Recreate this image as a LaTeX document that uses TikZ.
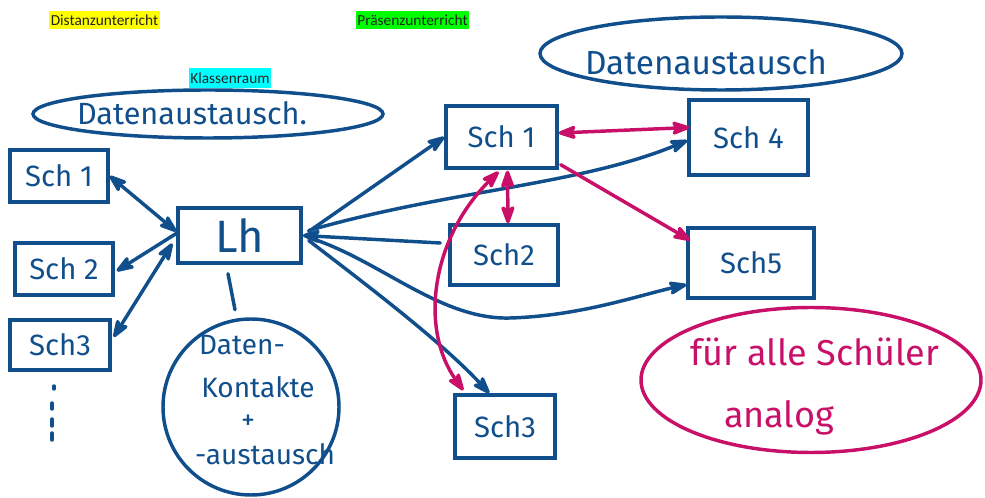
\documentclass[tikz,border=0pt]{standalone}
\usepackage{fontspec}
\setmainfont{Fira Sans}
\newfontfamily\labelfont{Carlito}
\usetikzlibrary{arrows.meta,calc,shapes.geometric}
\definecolor{penblue}{RGB}{16,79,140}
\definecolor{penpink}{RGB}{200,16,104}
\definecolor{hlyellow}{RGB}{255,255,0}
\definecolor{hlgreen}{RGB}{0,255,0}
\definecolor{hlcyan}{RGB}{0,255,255}
\definecolor{labeltext}{RGB}{35,35,35}
\begin{document}
\begin{tikzpicture}[x=0.75pt,y=-0.75pt,
  pen/.style={line width=2.6pt, line cap=round, line join=round},
  bluepen/.style={pen, draw=penblue},
  pinkpen/.style={pen, draw=penpink},
  tipend/.style={-{Stealth[length=17pt,width=12pt,inset=4pt,round]}},
  tipboth/.style={{Stealth[length=17pt,width=12pt,inset=4pt,round]}-{Stealth[length=17pt,width=12pt,inset=4pt,round]}},
  stubox/.style={draw=penblue, line width=2.6pt, inner sep=0pt, text=penblue,
    font=\fontsize{22}{26}\selectfont},
  hand/.style={text=penblue, inner sep=0pt},
  pinkhand/.style={text=penpink, inner sep=0pt},
  hl/.style={font=\labelfont\fontsize{11.5}{13}\selectfont, text=labeltext,
    inner xsep=1pt, inner ysep=0pt, minimum height=13.5pt},
  ring/.style={draw=penblue, line width=2.6pt, inner sep=0pt}
]
\useasboundingbox (0,0) rectangle (985,498);

% highlighted labels
\node[hl, fill=hlyellow] (dist) at (104.5,20) {Distanzunterricht};
\node[hl, fill=hlgreen] (praes) at (412.5,20) {Präsenzunterricht};
\node[hl, fill=hlcyan, minimum height=15pt] (klasse) at (230,78) {Klassenraum};

% ellipses
\node[ring, ellipse, minimum width=262.5pt, minimum height=36pt] (ellL) at (208,114) {};
\node[hand, font=\fontsize{23}{26}\selectfont] (ellLt) at (192,113) {Datenaustausch.};
\node[ring, ellipse, minimum width=271.5pt, minimum height=54.75pt] (ellR) at (721,53.5) {};
\node[hand, font=\fontsize{25}{28}\selectfont] (ellRt) at (706,62) {Datenaustausch};

% left boxes
\node[stubox, minimum width=73.5pt, minimum height=39pt] (L1) at (59,176) {Sch 1};
\node[stubox, minimum width=73.5pt, minimum height=39pt] (L2) at (64,269) {Sch 2};
\node[stubox, minimum width=75pt, minimum height=37.5pt] (L3) at (60,345) {Sch3};
\node[stubox, minimum width=92.25pt, minimum height=41.25pt,
      font=\fontsize{34}{38}\selectfont] (Lh) at (239.5,235.5) {Lh};

% right boxes
\node[stubox, minimum width=83.25pt, minimum height=46.5pt] (R1) at (501.5,137) {Sch 1};
\node[stubox, minimum width=81pt, minimum height=45pt] (R2) at (504,255) {Sch2};
\node[stubox, minimum width=75pt, minimum height=47.25pt] (R3) at (505,426.5) {Sch3};
\node[stubox, minimum width=89.25pt, minimum height=56.25pt] (R4) at (748.5,137.5) {Sch 4};
\node[stubox, minimum width=94.5pt, minimum height=52.5pt] (R5) at (751,263) {Sch5};

% circle
\node[ring, circle, minimum size=132pt] (C) at (251,407) {};
\node[hand, font=\fontsize{21}{24}\selectfont] (c1) at (242,345) {Daten-};
\node[hand, font=\fontsize{21}{24}\selectfont] (c2) at (258,387) {Kontakte};
\node[hand, font=\fontsize{21}{24}\selectfont] (c3) at (248,422) {+};
\node[hand, font=\fontsize{21}{24}\selectfont] (c4) at (265,454) {-austausch};

% pink ellipse
\node[ellipse, draw=penpink, line width=2.6pt, minimum width=255pt,
      minimum height=108.75pt, inner sep=0pt] (P) at (811,380) {};
\node[pinkhand, font=\fontsize{27}{30}\selectfont] (p1) at (815,352) {für alle Schüler};
\node[pinkhand, font=\fontsize{27}{30}\selectfont] (p2) at (779,418) {analog};

% dots under left Sch3
\draw[bluepen] (54,386) -- (54,389);
\draw[bluepen] (52,403) -- (52,409);
\draw[bluepen] (52,419) -- (52,426);
\draw[bluepen] (52,433) -- (52,440);

% left connectors
\draw[bluepen, tipboth] (L1.east) -- ($(Lh.west)+(0,-4)$);
\draw[bluepen, tipend] ($(Lh.west)+(0,-2)$) -- ($(L2.east)+(2,2)$);
\draw[bluepen, tipboth] ($(L3.east)+(2,-8)$) -- ($(Lh.west)+(-4,8)$);

% Lh to circle stroke
\draw[bluepen] ($(Lh.south)+(-11.5,9)$) -- ($(Lh.south)+(-4.5,45)$);

% right blue connectors
\draw[bluepen, tipend] ($(Lh.east)+(6,-4)$) -- (R1.west);
\draw[bluepen, tipend] ($(Lh.east)+(6,-5)$) .. controls (450,190) and (580,185) .. ($(R4.west)+(0,3)$);
\draw[bluepen, tipend] ($(R2.west)+(-8,-12)$) -- (Lh.east);
\draw[bluepen, tipend] ($(Lh.east)+(6,2)$) .. controls (380,260) and (440,320) .. (510,318)
   .. controls (580,316) and (640,295) .. ($(R5.south west)+(0,-15)$);
\draw[bluepen, tipend] ($(Lh.east)+(6,5)$) .. controls (360,280) and (440,340) .. ($(R3.north west)+(36,0)$);

% pink connectors
\draw[pinkpen, tipboth] ($(R1.east)+(0,-4)$) -- ($(R4.west)+(2,-10)$);
\draw[pinkpen, tipend] ($(R1.south east)+(2,-5)$) -- ($(R5.north west)+(4,14)$);
\draw[pinkpen, tipboth] ($(R1.south)+(6,1)$) -- ($(R2.north)+(4,0)$);
\draw[pinkpen, tipboth] ($(R1.south)+(-3,2)$) .. controls (430,240) and (420,330) .. ($(R3.north west)+(10,-3)$);
\end{tikzpicture}
\end{document}
